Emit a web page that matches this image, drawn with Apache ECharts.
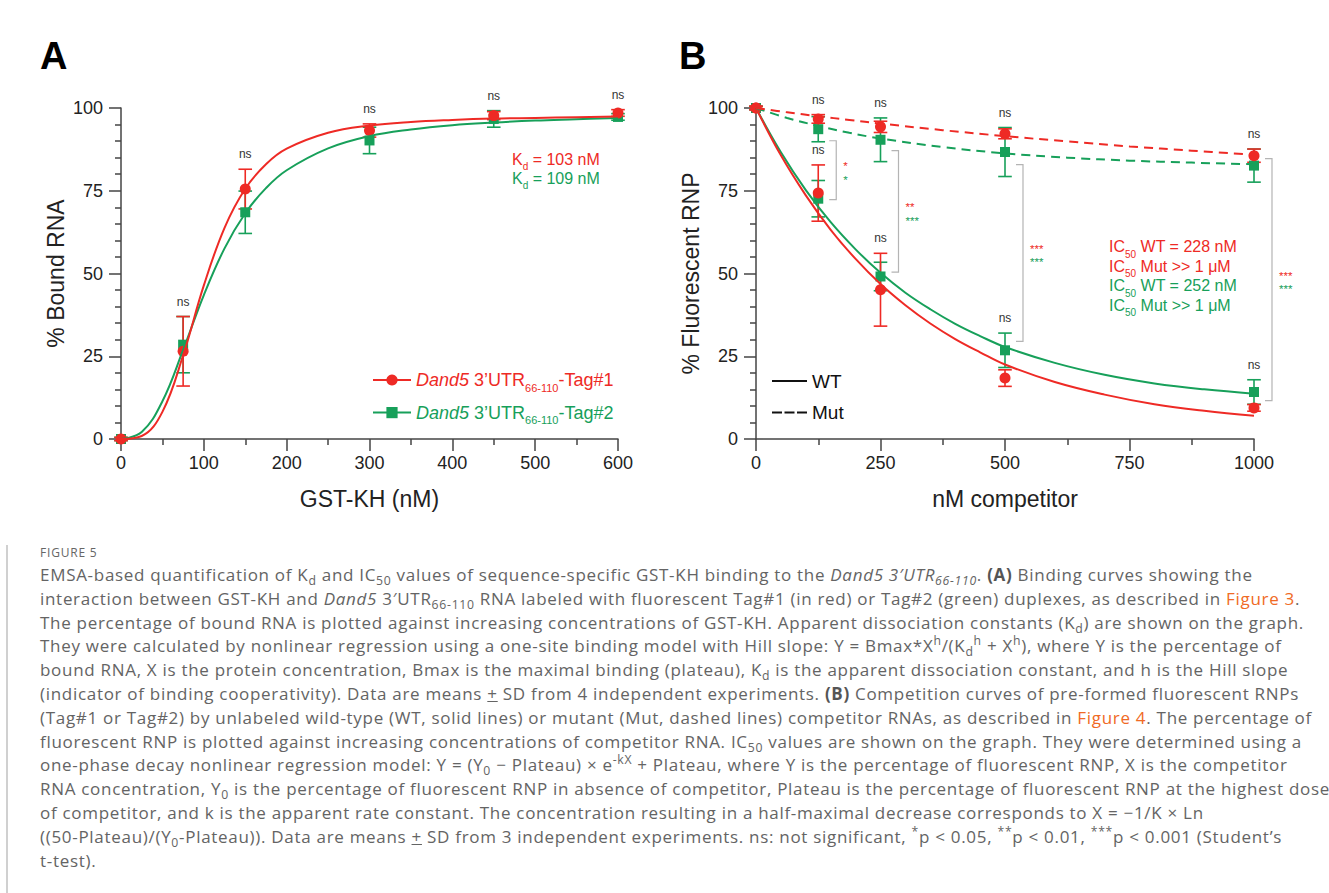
<!DOCTYPE html>
<html>
<head>
<meta charset="utf-8">
<script src="https://cdn.jsdelivr.net/npm/echarts@6/dist/echarts.min.js"></script>
<style>
  html, body { margin: 0; padding: 0; background: #fff; }
  body { width: 1329px; height: 893px; position: relative; overflow: hidden; }
  #chart { position: absolute; left: 0; top: 0; width: 1329px; height: 545px; }
  #rule { position: absolute; left: 6px; top: 545px; width: 2px; height: 348px; background: #d0d0d0; }
  #figlabel { position: absolute; left: 40px; top: 545px; font-family: 'Open Sans', 'Noto Sans', sans-serif; font-size: 12px; line-height: 16px; color: #666; letter-spacing: 0.8px; }
  #cap { position: absolute; left: 40px; top: 563px; font-family: 'Open Sans', 'Noto Sans', sans-serif; font-size: 17px; letter-spacing: 0.7px; line-height: 23.8px; color: #646464; white-space: nowrap; }
  #cap sub { font-size: 72%; vertical-align: -0.35em; line-height: 0; }
  #cap sup { font-size: 72%; vertical-align: 0.55em; line-height: 0; }
  #cap b { font-weight: 700; color: #555; }
  #cap .lk { color: #f06a25; }
</style>
</head>
<body>
<div id="chart"></div>
<div id="rule"></div>
<div id="figlabel">FIGURE 5</div>
<div id="cap">
EMSA-based quantification of K<sub>d</sub> and IC<sub>50</sub> values of sequence-specific GST-KH binding to the <i>Dand5 3′UTR<sub>66-110</sub></i>. <b>(A)</b> Binding curves showing the<br>
interaction between GST-KH and <i>Dand5</i> 3′UTR<sub>66-110</sub> RNA labeled with fluorescent Tag#1 (in red) or Tag#2 (green) duplexes, as described in <span class="lk">Figure 3</span>.<br>
The percentage of bound RNA is plotted against increasing concentrations of GST-KH. Apparent dissociation constants (K<sub>d</sub>) are shown on the graph.<br>
They were calculated by nonlinear regression using a one-site binding model with Hill slope: Y = Bmax*X<sup>h</sup>/(K<sub>d</sub><sup>h</sup> + X<sup>h</sup>), where Y is the percentage of<br>
bound RNA, X is the protein concentration, Bmax is the maximal binding (plateau), K<sub>d</sub> is the apparent dissociation constant, and h is the Hill slope<br>
(indicator of binding cooperativity). Data are means <u>+</u> SD from 4 independent experiments. <b>(B)</b> Competition curves of pre-formed fluorescent RNPs<br>
(Tag#1 or Tag#2) by unlabeled wild-type (WT, solid lines) or mutant (Mut, dashed lines) competitor RNAs, as described in <span class="lk">Figure 4</span>. The percentage of<br>
fluorescent RNP is plotted against increasing concentrations of competitor RNA. IC<sub>50</sub> values are shown on the graph. They were determined using a<br>
one-phase decay nonlinear regression model: Y = (Y<sub>0</sub> − Plateau) × e<sup>-kX</sup> + Plateau, where Y is the percentage of fluorescent RNP, X is the competitor<br>
RNA concentration, Y<sub>0</sub> is the percentage of fluorescent RNP in absence of competitor, Plateau is the percentage of fluorescent RNP at the highest dose<br>
of competitor, and k is the apparent rate constant. The concentration resulting in a half-maximal decrease corresponds to X = −1/K × Ln<br>
((50-Plateau)/(Y<sub>0</sub>-Plateau)). Data are means <u>+</u> SD from 3 independent experiments. ns: not significant, <sup>*</sup>p &lt; 0.05, <sup>**</sup>p &lt; 0.01, <sup>***</sup>p &lt; 0.001 (Student’s<br>
t-test).
</div>
<script>
// ---------- Panel A data (GST-KH binding) ----------
const xA = [0, 75, 150, 300, 450, 600];
const tag1Mean = [0, 26.5, 75.5, 93.2, 97.7, 98.5];
const tag1SD   = [0.5, 10.5, 6.0, 2.0, 1.2, 1.0];
const tag2Mean = [0, 28.5, 68.5, 90.2, 96.7, 97.3];
const tag2SD   = [0.5, 8.5, 6.4, 4.0, 2.5, 1.0];
// fitted curves
const curveXA   = [0, 25, 50, 75, 100, 125, 150, 175, 200, 250, 300, 350, 400, 450, 500, 550, 600];
const tag1Curve = [0, 0.9, 8.2, 25.3, 46.4, 63.8, 75.6, 83.0, 87.7, 92.5, 94.7, 95.8, 96.4, 96.8, 97.0, 97.2, 97.4];
const tag2Curve = [0, 2.1, 11.4, 26.9, 43.5, 57.6, 68.2, 75.8, 81.2, 87.8, 91.5, 93.5, 94.8, 95.6, 96.2, 96.6, 97.0];
const xTicksA = [0, 100, 200, 300, 400, 500, 600];
const yTicks  = [0, 25, 50, 75, 100];

// ---------- Panel B data (competition) ----------
const xB = [0, 125, 250, 500, 1000];
const wt1Mean  = [100, 74.3, 45.1, 18.4, 9.4];
const wt1SD    = [0.5, 8.5, 11.0, 2.5, 1.0];
const wt2Mean  = [100, 72.6, 49.1, 26.8, 14.2];
const wt2SD    = [0.5, 5.5, 4.3, 5.2, 3.7];
const mut1Mean = [100, 96.7, 94.3, 92.2, 85.6];
const mut1SD   = [0.5, 1.3, 1.7, 1.5, 2.0];
const mut2Mean = [100, 93.6, 90.4, 86.7, 82.6];
const mut2SD   = [0.5, 3.8, 6.6, 7.4, 5.0];
const curveXB  = [0, 50, 100, 150, 200, 250, 300, 350, 400, 450, 500, 600, 700, 800, 900, 1000];
const wt1Curve = [100, 85.7, 73.6, 63.2, 54.4, 46.8, 40.4, 34.9, 30.2, 26.2, 22.5, 17.2, 13.4, 10.5, 8.5, 7.0];
const wt2Curve = [100, 86.6, 75.2, 65.5, 57.3, 50.2, 44.2, 39.2, 34.8, 31.1, 27.8, 23.0, 19.4, 16.8, 15.0, 13.7];
const mutCurveX = [0, 62.5, 125, 187.5, 250, 375, 500, 625, 750, 875, 1000];
const mut1Curve = [100, 98.7, 97.5, 96.4, 95.3, 93.3, 91.5, 89.9, 88.4, 87.1, 85.9];
const mut2Curve = [100, 97.0, 94.6, 92.5, 90.8, 88.2, 86.3, 85.0, 84.1, 83.5, 83.0];
// significance brackets: x, top value, bottom value
const bracketX      = [125, 250, 500, 1000];
const bracketTop    = [90.1, 87.1, 82.9, 84.7];
const bracketBottom = [72.3, 50.4, 29.5, 11.6];
const starsTag1 = ['*', '**', '***', '***'];
const starsTag2 = ['*', '***', '***', '***'];
const xTicksB = [0, 250, 500, 750, 1000];

// ---------- styling ----------
const RED = '#ee2a25';
const GREEN = '#17a05a';
const AX = '#444';
const TXT = '#222';
const F = "'Liberation Sans', Arial, Helvetica, sans-serif";

const pairs = (xs, ys) => xs.map((x, i) => [x, ys[i]]);

function curve(name, xs, ys, color, gi, dashed, symbol, size) {
  return {
    type: 'line', name, xAxisIndex: gi, yAxisIndex: gi, data: pairs(xs, ys),
    smooth: 0.4, showSymbol: false,
    symbol: symbol || 'none', symbolSize: size || 10,
    lineStyle: { color, width: 2, type: dashed ? [9, 6] : 'solid' },
    itemStyle: { color }, silent: true, animation: false
  };
}
function errBars(xs, m, s, color, gi) {
  return {
    type: 'custom', xAxisIndex: gi, yAxisIndex: gi, clip: false, silent: true,
    data: xs.map((x, i) => [x, m[i], s[i]]), encode: { x: 0, y: 1 },
    renderItem: (params, api) => {
      const xv = api.value(0), mv = api.value(1), sv = api.value(2);
      const t = api.coord([xv, mv + sv]), b = api.coord([xv, mv - sv]);
      const w = 6.8;
      const st = () => ({ stroke: color, lineWidth: 1.6 });
      return { type: 'group', children: [
        { type: 'line', shape: { x1: t[0], y1: t[1], x2: b[0], y2: b[1] }, style: st() },
        { type: 'line', shape: { x1: t[0] - w, y1: t[1], x2: t[0] + w, y2: t[1] }, style: st() },
        { type: 'line', shape: { x1: b[0] - w, y1: b[1], x2: b[0] + w, y2: b[1] }, style: st() }
      ] };
    }
  };
}
function points(xs, m, color, gi, symbol, size) {
  return {
    type: 'scatter', xAxisIndex: gi, yAxisIndex: gi, data: pairs(xs, m),
    symbol, symbolSize: size, itemStyle: { color, opacity: 1 }, silent: true
  };
}
function nsMarks(xs, mA, sA, mB, sB, gi) {
  const data = [];
  for (let i = 1; i < xs.length; i++) data.push([xs[i], Math.max(mA[i] + sA[i], mB[i] + sB[i])]);
  return {
    type: 'custom', xAxisIndex: gi, yAxisIndex: gi, clip: false, silent: true, data, encode: { x: 0, y: 1 },
    renderItem: (params, api) => {
      const c = api.coord([api.value(0), api.value(1)]);
      return { type: 'text', x: c[0], y: c[1] - 15,
        style: { text: 'ns', fill: '#333', fontSize: 12, fontFamily: F, align: 'center', verticalAlign: 'middle', lineHeight: 12 } };
    }
  };
}
const bracketSeries = {
  type: 'custom', xAxisIndex: 1, yAxisIndex: 1, clip: false, silent: true,
  data: bracketX.map((x, i) => [x, bracketTop[i], bracketBottom[i]]), encode: { x: 0, y: 1 },
  renderItem: (params, api) => {
    const i = params.dataIndex;
    const t = api.coord([api.value(0), api.value(1)]);
    const b = api.coord([api.value(0), api.value(2)]);
    const bx = t[0] + 18;
    const mid = (t[1] + b[1]) / 2;
    const st = () => ({ stroke: '#b4b4b4', lineWidth: 1.2, fill: null });
    return { type: 'group', children: [
      { type: 'polyline', shape: { points: [[bx - 7, t[1]], [bx, t[1]], [bx, b[1]], [bx - 7, b[1]]] }, style: st() },
      { type: 'text', x: bx + 7, y: mid - 6.5 + 2.5, style: { text: starsTag1[i], fill: RED, fontSize: 11.5, fontFamily: F, align: 'left', verticalAlign: 'middle', lineHeight: 9 } },
      { type: 'text', x: bx + 7, y: mid + 7 + 2.5, style: { text: starsTag2[i], fill: GREEN, fontSize: 11.5, fontFamily: F, align: 'left', verticalAlign: 'middle', lineHeight: 9 } }
    ] };
  }
};

function xAxisCfg(gi, max, interval, minorSplit, name) {
  return {
    gridIndex: gi, type: 'value', min: 0, max, interval,
    name, nameLocation: 'middle', nameGap: 48, nameMoveOverlap: false,
    nameTextStyle: { fontSize: 23, color: TXT, fontFamily: F },
    axisLine: { show: true, onZero: false, lineStyle: { color: AX, width: 1.5 } },
    axisTick: { show: true, length: 12, lineStyle: { color: AX, width: 1.5 } },
    minorTick: { show: true, splitNumber: minorSplit, length: 6, lineStyle: { color: AX, width: 1.5 } },
    splitLine: { show: false }, minorSplitLine: { show: false },
    axisLabel: { fontSize: 18, color: TXT, fontFamily: F, margin: 15, formatter: v => String(v) }
  };
}
function yAxisCfg(gi, name) {
  return {
    gridIndex: gi, type: 'value', min: 0, max: 100, interval: 25,
    name, nameLocation: 'middle', nameGap: 54, nameMoveOverlap: false,
    nameTextStyle: { fontSize: 23, color: TXT, fontFamily: F },
    axisLine: { show: true, onZero: false, lineStyle: { color: AX, width: 1.5 } },
    axisTick: { show: true, length: 12, lineStyle: { color: AX, width: 1.5 } },
    minorTick: { show: true, splitNumber: 5, length: 6, lineStyle: { color: AX, width: 1.5 } },
    splitLine: { show: false }, minorSplitLine: { show: false },
    axisLabel: { fontSize: 18, color: TXT, fontFamily: F, margin: 18, formatter: v => String(v) }
  };
}

const richA = {
  r:  { color: RED, fontSize: 18, fontFamily: F, lineHeight: 22 },
  ri: { color: RED, fontSize: 18, fontFamily: F, fontStyle: 'italic', lineHeight: 22 },
  rs: { color: RED, fontSize: 11, fontFamily: F, lineHeight: 11, padding: [15, 0, 0, 0] },
  g:  { color: GREEN, fontSize: 18, fontFamily: F, lineHeight: 22 },
  gi: { color: GREEN, fontSize: 18, fontFamily: F, fontStyle: 'italic', lineHeight: 22 },
  gs: { color: GREEN, fontSize: 11, fontFamily: F, lineHeight: 11, padding: [15, 0, 0, 0] }
};
function subText(pre, sub, post, color, x, y) {
  return {
    type: 'text', x, y, silent: true,
    style: {
      text: '{m|' + pre + '}{s|' + sub + '}{m|' + post + '}',
      verticalAlign: 'middle', align: 'left',
      rich: {
        m: { fill: color, fontSize: 16, fontFamily: F, lineHeight: 20 },
        s: { fill: color, fontSize: 10, fontFamily: F, lineHeight: 10, padding: [15, 0, 0, 0] }
      }
    }
  };
}

const option = {
  animation: false,
  backgroundColor: '#fff',
  textStyle: { fontFamily: F },
  title: [
    { text: 'A', left: 35, top: 32, textStyle: { fontSize: 38, fontWeight: 'bold', color: '#000', fontFamily: F } },
    { text: 'B', left: 674, top: 32, textStyle: { fontSize: 38, fontWeight: 'bold', color: '#000', fontFamily: F } }
  ],
  grid: [
    { left: 121, top: 108, width: 497, height: 331, containLabel: false, outerBoundsMode: 'none' },
    { left: 756, top: 108, width: 498, height: 331, containLabel: false, outerBoundsMode: 'none' }
  ],
  xAxis: [
    xAxisCfg(0, 600, 100, 2, 'GST-KH (nM)'),
    xAxisCfg(1, 1000, 250, 2, 'nM competitor')
  ],
  yAxis: [
    yAxisCfg(0, '% Bound RNA'),
    yAxisCfg(1, '% Fluorescent RNP')
  ],
  legend: [
    {
      orient: 'vertical', left: 367, top: 362, itemWidth: 38, itemHeight: 14, itemGap: 6.6,
      selectedMode: false, data: ['Tag#1', 'Tag#2'],
      formatter: n => n === 'Tag#1'
        ? '{ri|Dand5}{r| 3’UTR}{rs|66-110}{r|-Tag#1}'
        : '{gi|Dand5}{g| 3’UTR}{gs|66-110}{g|-Tag#2}',
      textStyle: { rich: richA }
    },
    {
      orient: 'vertical', left: 767, top: 366, itemWidth: 35, itemHeight: 2, itemGap: 11.6,
      selectedMode: false,
      data: [
        { name: 'WT', icon: 'rect', itemStyle: { color: '#111' } },
        { name: 'Mut', icon: 'path://M0,0h10v2h-10zM12.5,0h10v2h-10zM25,0h10v2h-10z', itemStyle: { color: '#111' } }
      ],
      textStyle: { fontSize: 19, color: '#111', fontFamily: F, lineHeight: 20 }
    }
  ],
  graphic: [
    subText('K', 'd', ' = 103 nM', RED, 512, 159),
    subText('K', 'd', ' = 109 nM', GREEN, 512, 178),
    subText('IC', '50', ' WT = 228 nM', RED, 1109, 246.5),
    subText('IC', '50', ' Mut >> 1 μM', RED, 1109, 266),
    subText('IC', '50', ' WT = 252 nM', GREEN, 1109, 285.5),
    subText('IC', '50', ' Mut >> 1 μM', GREEN, 1109, 305)
  ],
  series: [
    // Panel A
    curve('Tag#2', curveXA, tag2Curve, GREEN, 0, false, 'rect', 11),
    curve('Tag#1', curveXA, tag1Curve, RED, 0, false, 'circle', 11.5),
    errBars(xA, tag2Mean, tag2SD, GREEN, 0),
    points(xA, tag2Mean, GREEN, 0, 'rect', 10),
    errBars(xA, tag1Mean, tag1SD, RED, 0),
    points(xA, tag1Mean, RED, 0, 'circle', 11),
    nsMarks(xA, tag1Mean, tag1SD, tag2Mean, tag2SD, 0),
    // Panel B
    curve('WT', curveXB, wt2Curve, GREEN, 1, false),
    curve('WT', curveXB, wt1Curve, RED, 1, false),
    curve('Mut', mutCurveX, mut2Curve, GREEN, 1, true),
    curve('Mut', mutCurveX, mut1Curve, RED, 1, true),
    errBars(xB, wt2Mean, wt2SD, GREEN, 1),
    points(xB, wt2Mean, GREEN, 1, 'rect', 10),
    errBars(xB, mut2Mean, mut2SD, GREEN, 1),
    points(xB, mut2Mean, GREEN, 1, 'rect', 10),
    errBars(xB, wt1Mean, wt1SD, RED, 1),
    points(xB, wt1Mean, RED, 1, 'circle', 11),
    errBars(xB, mut1Mean, mut1SD, RED, 1),
    points(xB, mut1Mean, RED, 1, 'circle', 11),
    nsMarks(xB, mut1Mean, mut1SD, mut2Mean, mut2SD, 1),
    nsMarks(xB, wt1Mean, wt1SD, wt2Mean, wt2SD, 1),
    bracketSeries
  ]
};

const chart = echarts.init(document.getElementById('chart'), null, { renderer: 'svg' });
chart.setOption(option);
</script>
</body>
</html>
